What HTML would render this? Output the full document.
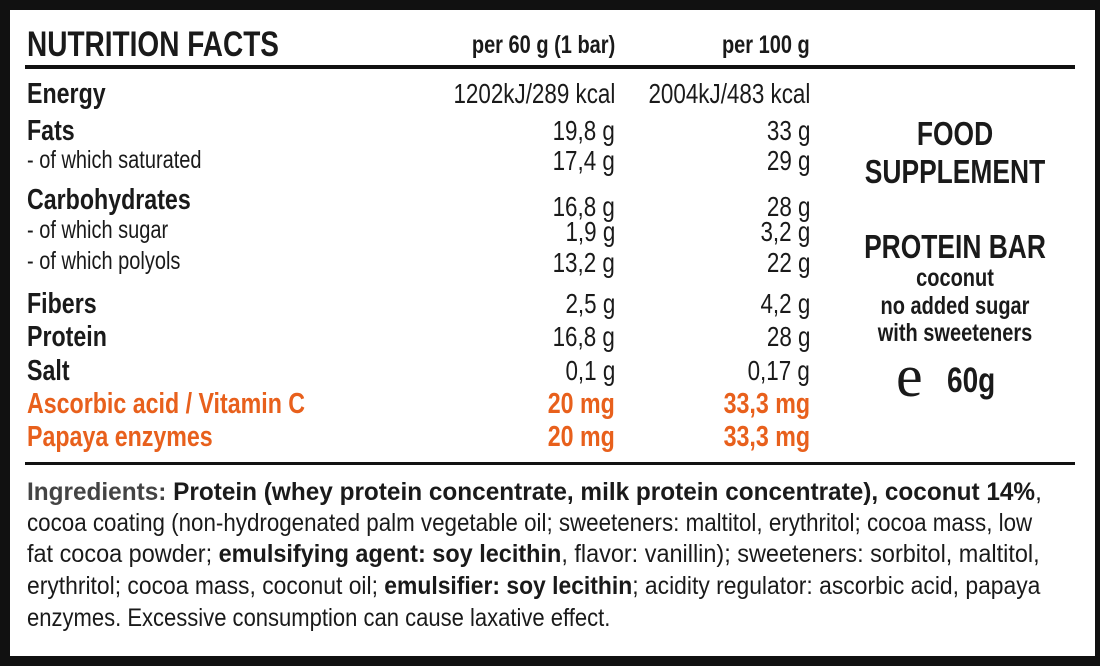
<!DOCTYPE html>
<html><head><meta charset="utf-8"><style>
html,body{margin:0;padding:0}
body{width:1100px;height:666px;background:#111;position:relative;overflow:hidden;font-family:"Liberation Sans",sans-serif;color:#1a1a1a}
#in{position:absolute;left:10px;top:10px;width:1085px;height:646px;background:#fff}
.t{position:absolute;white-space:nowrap;line-height:1}
.l{transform:scaleX(.8);transform-origin:left center}
.r{transform:scaleX(.8);transform-origin:right center}
.c{transform:translateX(-50%) scaleX(.8);transform-origin:center center}
.b{font-weight:bold}
.o{color:#e8601c;font-weight:bold}
.hr{position:absolute;background:#111}
</style></head><body>
<div id="in"></div>
<div class="hr" style="left:25px;top:65px;width:1050px;height:4px"></div>
<div class="hr" style="left:25px;top:462px;width:1050px;height:3px"></div>

<div class="t l b" style="left:27px;top:27px;font-size:35px">NUTRITION FACTS</div>
<div class="t r b" style="right:485px;top:33px;font-size:25px">per 60 g (1 bar)</div>
<div class="t r b" style="right:290px;top:33px;font-size:25px">per 100 g</div>

<div class="t l b" style="left:27px;top:80px;font-size:29px">Energy</div>
<div class="t r" style="right:485px;top:80px;font-size:28px">1202kJ/289 kcal</div>
<div class="t r" style="right:290px;top:80px;font-size:28px">2004kJ/483 kcal</div>

<div class="t l b" style="left:27px;top:117px;font-size:29px">Fats</div>
<div class="t r" style="right:485px;top:117px;font-size:28px">19,8 g</div>
<div class="t r" style="right:290px;top:117px;font-size:28px">33 g</div>
<div class="t l" style="left:27px;top:148px;font-size:25px">- of which saturated</div>
<div class="t r" style="right:485px;top:147px;font-size:28px">17,4 g</div>
<div class="t r" style="right:290px;top:147px;font-size:28px">29 g</div>

<div class="t l b" style="left:27px;top:186px;font-size:29px">Carbohydrates</div>
<div class="t r" style="right:485px;top:193px;font-size:28px">16,8 g</div>
<div class="t r" style="right:290px;top:193px;font-size:28px">28 g</div>
<div class="t l" style="left:27px;top:218px;font-size:25px">- of which sugar</div>
<div class="t r" style="right:485px;top:218px;font-size:28px">1,9 g</div>
<div class="t r" style="right:290px;top:218px;font-size:28px">3,2 g</div>
<div class="t l" style="left:27px;top:249px;font-size:25px">- of which polyols</div>
<div class="t r" style="right:485px;top:249px;font-size:28px">13,2 g</div>
<div class="t r" style="right:290px;top:249px;font-size:28px">22 g</div>

<div class="t l b" style="left:27px;top:290px;font-size:29px">Fibers</div>
<div class="t r" style="right:485px;top:290px;font-size:28px">2,5 g</div>
<div class="t r" style="right:290px;top:290px;font-size:28px">4,2 g</div>
<div class="t l b" style="left:27px;top:323px;font-size:29px">Protein</div>
<div class="t r" style="right:485px;top:323px;font-size:28px">16,8 g</div>
<div class="t r" style="right:290px;top:323px;font-size:28px">28 g</div>
<div class="t l b" style="left:27px;top:357px;font-size:29px">Salt</div>
<div class="t r" style="right:485px;top:357px;font-size:28px">0,1 g</div>
<div class="t r" style="right:290px;top:357px;font-size:28px">0,17 g</div>
<div class="t l o" style="left:27px;top:390px;font-size:29px">Ascorbic acid / Vitamin C</div>
<div class="t r o" style="right:485px;top:390px;font-size:29px">20 mg</div>
<div class="t r o" style="right:290px;top:390px;font-size:29px">33,3 mg</div>
<div class="t l o" style="left:27px;top:423px;font-size:29px">Papaya enzymes</div>
<div class="t r o" style="right:485px;top:423px;font-size:29px">20 mg</div>
<div class="t r o" style="right:290px;top:423px;font-size:29px">33,3 mg</div>

<div class="t c b" style="left:955px;top:117px;font-size:33px">FOOD</div>
<div class="t c b" style="left:955px;top:155px;font-size:33px">SUPPLEMENT</div>
<div class="t c b" style="left:955px;top:230px;font-size:33px">PROTEIN BAR</div>
<div class="t c b" style="left:955px;top:266px;font-size:25px">coconut</div>
<div class="t c b" style="left:955px;top:294px;font-size:25px">no added sugar</div>
<div class="t c b" style="left:955px;top:321px;font-size:25px">with sweeteners</div>
<div class="t" style="left:896px;top:346px;font-size:60px;font-family:'Liberation Serif',serif;line-height:1">e</div>
<div class="t l b" style="left:947px;top:363px;font-size:35px">60g</div>

<div class="t fit" style="left:27px;top:480px;font-size:25px"><span class="b" style="color:#444">Ingredients: </span><span class="b">Protein (whey protein concentrate, milk protein concentrate), coconut 14%</span>,</div>
<div class="t fit" style="left:27px;top:511px;font-size:25px">cocoa coating (non-hydrogenated palm vegetable oil; sweeteners: maltitol, erythritol; cocoa mass, low</div>
<div class="t fit" style="left:27px;top:542px;font-size:25px">fat cocoa powder; <b>emulsifying agent: soy lecithin</b>, flavor: vanillin); sweeteners: sorbitol, maltitol,</div>
<div class="t fit" style="left:27px;top:574px;font-size:25px">erythritol; cocoa mass, coconut oil; <b>emulsifier: soy lecithin</b>; acidity regulator: ascorbic acid, papaya</div>
<div class="t fit" style="left:27px;top:606px;font-size:25px">enzymes. Excessive consumption can cause laxative effect.</div>
<script>
var W=[1015,1005,1013,1013,583];
document.querySelectorAll('.fit').forEach(function(e,i){var w=e.offsetWidth;e.style.transformOrigin='left center';e.style.transform='scaleX('+(W[i]/w)+')';});
</script>
</body></html>
